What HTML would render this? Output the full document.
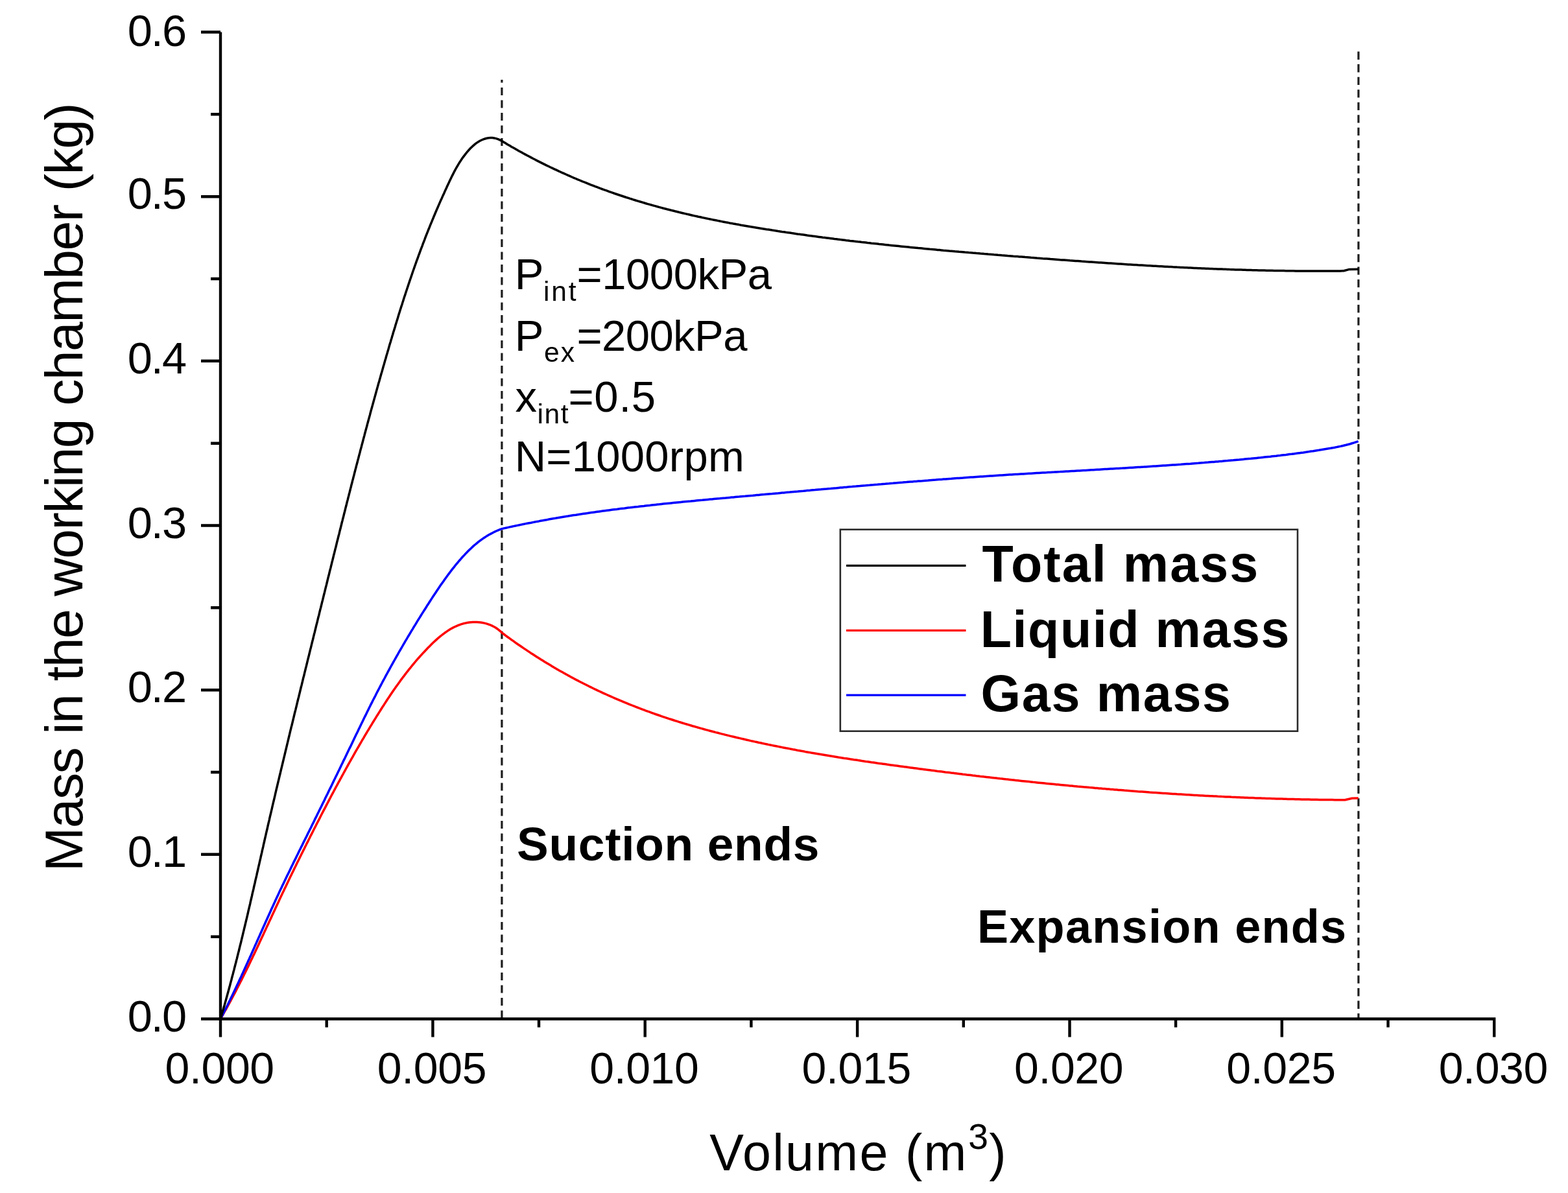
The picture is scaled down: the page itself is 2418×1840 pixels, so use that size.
<!DOCTYPE html>
<html><head><meta charset="utf-8"><title>Mass in the working chamber vs Volume</title>
<style>html,body{margin:0;padding:0;background:#fff;}body{width:2418px;height:1840px;overflow:hidden;}svg{display:block;}text{font-family:'Liberation Sans', Arial, Helvetica, sans-serif;fill:#000;}.b{font-weight:bold;}</style></head><body>
<svg width="2418" height="1840" viewBox="0 0 2418 1840">
<rect x="0" y="0" width="2418" height="1840" fill="#fff"/>
<g stroke="#1e1e1e" stroke-width="3.2" fill="none">
<path d="M773.9 123 V1571.5" stroke-dasharray="12 7.5" stroke-dashoffset="7.4"/>
<path d="M2094.9 79.6 V1571.5" stroke-dasharray="12.3 7.22"/>
</g>
<g fill="none" stroke-width="3.5" stroke-linejoin="round" stroke-linecap="butt">
<path stroke="#ff0000" d="M340.0 1571.5 L341.5 1568.9 L343.0 1566.3 L344.5 1563.7 L346.0 1561.0 L347.5 1558.4 L349.0 1555.8 L350.4 1553.1 L351.9 1550.5 L353.3 1547.8 L354.8 1545.2 L356.2 1542.5 L357.6 1539.9 L359.0 1537.2 L360.5 1534.5 L361.9 1531.9 L363.3 1529.2 L364.7 1526.5 L366.0 1523.8 L367.4 1521.2 L368.8 1518.5 L370.2 1515.8 L371.5 1513.1 L372.9 1510.4 L374.2 1507.7 L375.6 1505.0 L376.9 1502.3 L378.3 1499.6 L379.6 1496.9 L380.9 1494.2 L382.3 1491.5 L383.6 1488.7 L384.9 1486.0 L386.2 1483.3 L387.5 1480.6 L388.8 1477.9 L390.1 1475.1 L391.4 1472.4 L392.7 1469.7 L394.0 1466.9 L395.3 1464.2 L396.6 1461.5 L397.9 1458.7 L399.2 1456.0 L400.4 1453.3 L401.7 1450.5 L403.0 1447.8 L404.3 1445.1 L405.6 1442.3 L406.8 1439.6 L408.1 1436.8 L409.4 1434.1 L410.6 1431.4 L411.9 1428.6 L413.2 1425.9 L414.5 1423.1 L415.7 1420.4 L417.0 1417.7 L418.3 1414.9 L419.5 1412.2 L420.8 1409.4 L422.1 1406.7 L423.4 1403.9 L424.6 1401.2 L425.9 1398.5 L427.2 1395.7 L428.5 1393.0 L429.8 1390.3 L431.0 1387.5 L432.3 1384.8 L433.6 1382.0 L434.9 1379.3 L436.2 1376.6 L437.5 1373.9 L438.8 1371.1 L440.1 1368.4 L441.4 1365.7 L442.7 1362.9 L444.0 1360.2 L445.3 1357.5 L446.6 1354.8 L447.9 1352.1 L449.3 1349.3 L450.6 1346.6 L451.9 1343.9 L453.2 1341.2 L454.5 1338.5 L455.9 1335.8 L457.2 1333.0 L458.5 1330.3 L459.9 1327.6 L461.2 1324.9 L462.5 1322.2 L463.9 1319.5 L465.2 1316.8 L466.6 1314.1 L467.9 1311.4 L469.3 1308.7 L470.6 1306.0 L472.0 1303.3 L473.3 1300.6 L474.7 1297.9 L476.0 1295.2 L477.4 1292.5 L478.7 1289.8 L480.1 1287.1 L481.5 1284.4 L482.8 1281.7 L484.2 1279.0 L485.6 1276.3 L487.0 1273.6 L488.3 1270.9 L489.7 1268.2 L491.1 1265.6 L492.5 1262.9 L493.8 1260.2 L495.2 1257.5 L496.6 1254.8 L498.0 1252.1 L499.4 1249.4 L500.8 1246.8 L502.2 1244.1 L503.6 1241.4 L505.0 1238.7 L506.4 1236.1 L507.8 1233.4 L509.2 1230.7 L510.6 1228.0 L512.0 1225.4 L513.5 1222.7 L514.9 1220.0 L516.3 1217.4 L517.7 1214.7 L519.2 1212.0 L520.6 1209.4 L522.0 1206.7 L523.5 1204.1 L524.9 1201.4 L526.4 1198.8 L527.8 1196.1 L529.3 1193.5 L530.7 1190.8 L532.2 1188.2 L533.6 1185.5 L535.1 1182.9 L536.6 1180.2 L538.0 1177.6 L539.5 1175.0 L541.0 1172.3 L542.5 1169.7 L544.0 1167.1 L545.4 1164.5 L546.9 1161.8 L548.4 1159.2 L549.9 1156.6 L551.4 1154.0 L553.0 1151.4 L554.5 1148.7 L556.0 1146.1 L557.5 1143.5 L559.0 1140.9 L560.6 1138.3 L562.1 1135.7 L563.6 1133.1 L565.2 1130.5 L566.7 1127.9 L568.3 1125.4 L569.8 1122.8 L571.4 1120.2 L573.0 1117.6 L574.5 1115.0 L576.1 1112.5 L577.7 1109.9 L579.3 1107.3 L580.9 1104.7 L582.5 1102.2 L584.1 1099.6 L585.7 1097.1 L587.3 1094.5 L588.9 1092.0 L590.5 1089.4 L592.2 1086.9 L593.8 1084.4 L595.5 1081.8 L597.1 1079.3 L598.8 1076.8 L600.5 1074.3 L602.1 1071.8 L603.8 1069.3 L605.5 1066.8 L607.2 1064.3 L609.0 1061.8 L610.7 1059.3 L612.4 1056.9 L614.2 1054.4 L616.0 1052.0 L617.7 1049.5 L619.5 1047.1 L621.3 1044.7 L623.2 1042.3 L625.0 1039.9 L626.8 1037.5 L628.7 1035.1 L630.6 1032.7 L632.5 1030.4 L634.4 1028.0 L636.3 1025.7 L638.2 1023.4 L640.2 1021.0 L642.1 1018.7 L644.1 1016.4 L646.1 1014.2 L648.1 1011.9 L650.2 1009.6 L652.2 1007.4 L654.3 1005.2 L656.4 1003.0 L658.5 1000.7 L660.6 998.6 L662.8 996.4 L664.9 994.2 L667.1 992.1 L669.3 990.0 L671.6 987.9 L673.8 985.9 L676.1 983.8 L678.4 981.9 L680.8 980.0 L683.2 978.1 L685.6 976.3 L688.0 974.6 L690.5 972.9 L693.0 971.3 L695.5 969.8 L698.1 968.4 L700.7 967.0 L703.4 965.8 L706.1 964.7 L708.8 963.6 L711.6 962.7 L714.4 961.8 L717.3 961.1 L720.2 960.5 L723.2 960.1 L726.2 959.7 L729.2 959.5 L732.2 959.5 L735.3 959.5 L738.3 959.7 L741.3 960.0 L744.3 960.5 L747.3 961.1 L750.2 961.9 L753.1 962.8 L756.0 963.9 L758.8 965.1 L761.5 966.5 L764.2 968.0 L766.7 969.7 L769.2 971.6 L771.6 973.6 L773.9 975.8 L776.9 978.0 L779.9 980.3 L782.9 982.5 L785.9 984.6 L788.9 986.8 L791.9 988.9 L794.9 991.1 L797.9 993.2 L800.9 995.2 L803.9 997.3 L806.9 999.4 L809.9 1001.4 L812.9 1003.4 L815.9 1005.4 L818.9 1007.4 L821.9 1009.3 L824.9 1011.3 L827.9 1013.2 L830.9 1015.1 L833.9 1017.0 L836.9 1018.8 L839.9 1020.7 L842.9 1022.5 L845.9 1024.3 L848.9 1026.1 L851.9 1027.9 L854.9 1029.7 L857.9 1031.4 L860.9 1033.2 L863.9 1034.9 L866.9 1036.6 L869.9 1038.3 L872.9 1039.9 L875.9 1041.6 L878.9 1043.2 L881.9 1044.9 L884.9 1046.5 L887.9 1048.1 L890.9 1049.6 L893.9 1051.2 L896.9 1052.7 L899.9 1054.3 L902.9 1055.8 L905.9 1057.3 L908.9 1058.8 L911.9 1060.2 L914.9 1061.7 L917.9 1063.2 L920.9 1064.6 L923.9 1066.0 L926.9 1067.4 L929.9 1068.8 L932.9 1070.2 L935.9 1071.5 L938.9 1072.9 L941.9 1074.2 L944.9 1075.5 L947.9 1076.8 L950.9 1078.1 L953.9 1079.4 L956.9 1080.7 L959.9 1081.9 L962.9 1083.2 L965.9 1084.4 L968.9 1085.6 L971.9 1086.8 L974.9 1088.0 L977.9 1089.2 L980.9 1090.4 L983.9 1091.5 L986.9 1092.7 L989.9 1093.8 L992.9 1094.9 L995.9 1096.1 L998.9 1097.2 L1001.9 1098.2 L1004.9 1099.3 L1007.9 1100.4 L1010.9 1101.5 L1013.9 1102.5 L1016.9 1103.5 L1019.9 1104.6 L1022.9 1105.6 L1025.9 1106.6 L1028.9 1107.6 L1031.9 1108.6 L1034.9 1109.5 L1037.9 1110.5 L1040.9 1111.5 L1043.9 1112.4 L1046.9 1113.4 L1049.9 1114.3 L1052.9 1115.2 L1055.9 1116.1 L1058.9 1117.0 L1061.9 1117.9 L1064.9 1118.8 L1067.9 1119.7 L1070.9 1120.5 L1073.9 1121.4 L1076.9 1122.3 L1079.9 1123.1 L1082.9 1123.9 L1085.9 1124.8 L1088.9 1125.6 L1091.9 1126.4 L1094.9 1127.2 L1097.9 1128.0 L1100.9 1128.8 L1103.9 1129.6 L1106.9 1130.3 L1109.9 1131.1 L1112.9 1131.9 L1115.9 1132.6 L1118.9 1133.4 L1121.9 1134.1 L1124.9 1134.9 L1127.9 1135.6 L1130.9 1136.3 L1133.9 1137.0 L1136.9 1137.7 L1139.9 1138.4 L1142.9 1139.1 L1145.9 1139.8 L1148.9 1140.5 L1151.9 1141.2 L1154.9 1141.9 L1157.9 1142.6 L1160.9 1143.2 L1163.9 1143.9 L1166.9 1144.5 L1169.9 1145.2 L1172.9 1145.8 L1175.9 1146.5 L1178.9 1147.1 L1181.9 1147.7 L1184.9 1148.4 L1187.9 1149.0 L1190.9 1149.6 L1193.9 1150.2 L1196.9 1150.8 L1199.9 1151.4 L1202.9 1152.0 L1205.9 1152.6 L1208.9 1153.2 L1211.9 1153.8 L1214.9 1154.3 L1217.9 1154.9 L1220.9 1155.5 L1223.9 1156.1 L1226.9 1156.6 L1229.9 1157.2 L1232.9 1157.7 L1235.9 1158.3 L1238.9 1158.8 L1241.9 1159.4 L1244.9 1159.9 L1247.9 1160.4 L1250.9 1161.0 L1253.9 1161.5 L1256.9 1162.0 L1259.9 1162.5 L1262.9 1163.0 L1265.9 1163.5 L1268.9 1164.0 L1271.9 1164.5 L1274.9 1165.0 L1277.9 1165.5 L1280.9 1166.0 L1283.9 1166.5 L1286.9 1167.0 L1289.9 1167.5 L1292.9 1168.0 L1295.9 1168.4 L1298.9 1168.9 L1301.9 1169.4 L1304.9 1169.8 L1307.9 1170.3 L1310.9 1170.8 L1313.9 1171.2 L1316.9 1171.7 L1319.9 1172.1 L1322.9 1172.6 L1325.9 1173.0 L1328.9 1173.5 L1331.9 1173.9 L1334.9 1174.4 L1337.9 1174.8 L1340.9 1175.2 L1343.9 1175.7 L1346.9 1176.1 L1349.9 1176.5 L1352.9 1177.0 L1355.9 1177.4 L1358.9 1177.8 L1361.9 1178.2 L1364.9 1178.6 L1367.9 1179.1 L1370.9 1179.5 L1373.9 1179.9 L1376.9 1180.3 L1379.9 1180.7 L1382.9 1181.1 L1385.9 1181.5 L1388.9 1181.9 L1391.9 1182.3 L1394.9 1182.7 L1397.9 1183.1 L1400.9 1183.5 L1403.9 1183.9 L1406.9 1184.3 L1409.9 1184.7 L1412.9 1185.1 L1415.9 1185.5 L1418.9 1185.9 L1421.9 1186.3 L1424.9 1186.7 L1427.9 1187.1 L1430.9 1187.4 L1433.9 1187.8 L1436.9 1188.2 L1439.9 1188.6 L1442.9 1189.0 L1445.9 1189.4 L1448.9 1189.7 L1451.9 1190.1 L1454.9 1190.5 L1457.9 1190.9 L1460.9 1191.2 L1463.9 1191.6 L1466.9 1192.0 L1469.9 1192.3 L1472.9 1192.7 L1475.9 1193.1 L1478.9 1193.4 L1481.9 1193.8 L1484.9 1194.2 L1487.9 1194.5 L1490.9 1194.9 L1493.9 1195.2 L1496.9 1195.6 L1499.9 1196.0 L1502.9 1196.3 L1505.9 1196.7 L1508.9 1197.0 L1511.9 1197.4 L1514.9 1197.7 L1517.9 1198.1 L1520.9 1198.4 L1523.9 1198.7 L1526.9 1199.1 L1529.9 1199.4 L1532.9 1199.8 L1535.9 1200.1 L1538.9 1200.4 L1541.9 1200.8 L1544.9 1201.1 L1547.9 1201.4 L1550.9 1201.8 L1553.9 1202.1 L1556.9 1202.4 L1559.9 1202.8 L1562.9 1203.1 L1565.9 1203.4 L1568.9 1203.7 L1571.9 1204.1 L1574.9 1204.4 L1577.9 1204.7 L1580.9 1205.0 L1583.9 1205.3 L1586.9 1205.6 L1589.9 1205.9 L1592.9 1206.3 L1595.9 1206.6 L1598.9 1206.9 L1601.9 1207.2 L1604.9 1207.5 L1607.9 1207.8 L1610.9 1208.1 L1613.9 1208.4 L1616.9 1208.7 L1619.9 1209.0 L1622.9 1209.3 L1625.9 1209.6 L1628.9 1209.9 L1631.9 1210.1 L1634.9 1210.4 L1637.9 1210.7 L1640.9 1211.0 L1643.9 1211.3 L1646.9 1211.6 L1649.9 1211.9 L1652.9 1212.1 L1655.9 1212.4 L1658.9 1212.7 L1661.9 1213.0 L1664.9 1213.2 L1667.9 1213.5 L1670.9 1213.8 L1673.9 1214.0 L1676.9 1214.3 L1679.9 1214.6 L1682.9 1214.8 L1685.9 1215.1 L1688.9 1215.4 L1691.9 1215.6 L1694.9 1215.9 L1697.9 1216.1 L1700.9 1216.4 L1703.9 1216.6 L1706.9 1216.9 L1709.9 1217.1 L1712.9 1217.4 L1715.9 1217.6 L1718.9 1217.9 L1721.9 1218.1 L1724.9 1218.4 L1727.9 1218.6 L1730.9 1218.8 L1733.9 1219.1 L1736.9 1219.3 L1739.9 1219.5 L1742.9 1219.8 L1745.9 1220.0 L1748.9 1220.2 L1751.9 1220.4 L1754.9 1220.7 L1757.9 1220.9 L1760.9 1221.1 L1763.9 1221.3 L1766.9 1221.5 L1769.9 1221.7 L1772.9 1222.0 L1775.9 1222.2 L1778.9 1222.4 L1781.9 1222.6 L1784.9 1222.8 L1787.9 1223.0 L1790.9 1223.2 L1793.9 1223.4 L1796.9 1223.6 L1799.9 1223.8 L1802.9 1224.0 L1805.9 1224.2 L1808.9 1224.4 L1811.9 1224.6 L1814.9 1224.8 L1817.9 1224.9 L1820.9 1225.1 L1823.9 1225.3 L1826.9 1225.5 L1829.9 1225.7 L1832.9 1225.8 L1835.9 1226.0 L1838.9 1226.2 L1841.9 1226.4 L1844.9 1226.5 L1847.9 1226.7 L1850.9 1226.9 L1853.9 1227.0 L1856.9 1227.2 L1859.9 1227.4 L1862.9 1227.5 L1865.9 1227.7 L1868.9 1227.8 L1871.9 1228.0 L1874.9 1228.1 L1877.9 1228.3 L1880.9 1228.4 L1883.9 1228.6 L1886.9 1228.7 L1889.9 1228.9 L1892.9 1229.0 L1895.9 1229.1 L1898.9 1229.3 L1901.9 1229.4 L1904.9 1229.5 L1907.9 1229.7 L1910.9 1229.8 L1913.9 1229.9 L1916.9 1230.0 L1919.9 1230.2 L1922.9 1230.3 L1925.9 1230.4 L1928.9 1230.5 L1931.9 1230.6 L1934.9 1230.8 L1937.9 1230.9 L1940.9 1231.0 L1943.9 1231.1 L1946.9 1231.2 L1949.9 1231.3 L1952.9 1231.4 L1955.9 1231.5 L1958.9 1231.6 L1961.9 1231.7 L1964.9 1231.8 L1967.9 1231.9 L1970.9 1232.0 L1973.9 1232.0 L1976.9 1232.1 L1979.9 1232.2 L1982.9 1232.3 L1985.9 1232.4 L1988.9 1232.5 L1991.9 1232.5 L1994.9 1232.6 L1997.9 1232.7 L2000.9 1232.7 L2003.9 1232.8 L2006.9 1232.9 L2009.9 1232.9 L2012.9 1233.0 L2015.9 1233.1 L2018.9 1233.1 L2021.9 1233.2 L2024.9 1233.2 L2027.9 1233.3 L2030.9 1233.3 L2033.9 1233.4 L2036.9 1233.4 L2039.9 1233.5 L2042.9 1233.5 L2045.9 1233.5 L2048.9 1233.6 L2051.9 1233.6 L2054.9 1233.6 L2057.9 1233.7 L2060.9 1233.7 L2063.9 1233.7 L2066.9 1233.8 L2069.9 1233.8 L2072.9 1233.8 L2074.0 1233.8 L2085.0 1231.2 L2094.7 1231.1"/>
<path stroke="#0000ff" d="M340.0 1571.5 L341.4 1568.8 L342.8 1566.1 L344.2 1563.4 L345.5 1560.8 L346.9 1558.1 L348.3 1555.4 L349.6 1552.7 L351.0 1550.0 L352.3 1547.2 L353.6 1544.5 L355.0 1541.8 L356.3 1539.1 L357.6 1536.4 L358.9 1533.7 L360.2 1530.9 L361.5 1528.2 L362.8 1525.5 L364.1 1522.8 L365.4 1520.0 L366.7 1517.3 L368.0 1514.6 L369.2 1511.8 L370.5 1509.1 L371.8 1506.4 L373.0 1503.6 L374.3 1500.9 L375.6 1498.1 L376.8 1495.4 L378.1 1492.6 L379.3 1489.9 L380.6 1487.1 L381.8 1484.4 L383.0 1481.6 L384.3 1478.9 L385.5 1476.1 L386.8 1473.4 L388.0 1470.6 L389.2 1467.9 L390.5 1465.1 L391.7 1462.4 L392.9 1459.6 L394.2 1456.8 L395.4 1454.1 L396.6 1451.3 L397.8 1448.6 L399.1 1445.8 L400.3 1443.1 L401.5 1440.3 L402.8 1437.5 L404.0 1434.8 L405.2 1432.0 L406.4 1429.3 L407.7 1426.5 L408.9 1423.8 L410.1 1421.0 L411.4 1418.2 L412.6 1415.5 L413.9 1412.7 L415.1 1410.0 L416.4 1407.2 L417.6 1404.5 L418.8 1401.7 L420.1 1399.0 L421.4 1396.2 L422.6 1393.5 L423.9 1390.8 L425.1 1388.0 L426.4 1385.3 L427.7 1382.5 L429.0 1379.8 L430.2 1377.1 L431.5 1374.3 L432.8 1371.6 L434.1 1368.9 L435.4 1366.1 L436.7 1363.4 L438.0 1360.7 L439.3 1358.0 L440.6 1355.3 L441.9 1352.5 L443.2 1349.8 L444.6 1347.1 L445.9 1344.4 L447.2 1341.7 L448.5 1338.9 L449.8 1336.2 L451.2 1333.5 L452.5 1330.8 L453.8 1328.1 L455.2 1325.4 L456.5 1322.7 L457.8 1320.0 L459.2 1317.3 L460.5 1314.6 L461.8 1311.8 L463.2 1309.1 L464.5 1306.4 L465.9 1303.7 L467.2 1301.0 L468.5 1298.3 L469.9 1295.6 L471.2 1292.9 L472.6 1290.2 L473.9 1287.5 L475.2 1284.8 L476.6 1282.1 L477.9 1279.4 L479.3 1276.7 L480.6 1274.0 L481.9 1271.3 L483.3 1268.6 L484.6 1265.9 L485.9 1263.1 L487.3 1260.4 L488.6 1257.7 L489.9 1255.0 L491.3 1252.3 L492.6 1249.6 L493.9 1246.9 L495.3 1244.2 L496.6 1241.5 L497.9 1238.8 L499.3 1236.1 L500.6 1233.4 L501.9 1230.6 L503.2 1227.9 L504.6 1225.2 L505.9 1222.5 L507.2 1219.8 L508.5 1217.1 L509.9 1214.4 L511.2 1211.7 L512.5 1209.0 L513.8 1206.2 L515.1 1203.5 L516.5 1200.8 L517.8 1198.1 L519.1 1195.4 L520.4 1192.7 L521.7 1190.0 L523.1 1187.2 L524.4 1184.5 L525.7 1181.8 L527.0 1179.1 L528.3 1176.4 L529.6 1173.6 L531.0 1170.9 L532.3 1168.2 L533.6 1165.5 L534.9 1162.8 L536.2 1160.0 L537.5 1157.3 L538.8 1154.6 L540.2 1151.9 L541.5 1149.2 L542.8 1146.4 L544.1 1143.7 L545.4 1141.0 L546.7 1138.3 L548.0 1135.5 L549.3 1132.8 L550.7 1130.1 L552.0 1127.4 L553.3 1124.6 L554.6 1121.9 L555.9 1119.2 L557.2 1116.5 L558.6 1113.7 L559.9 1111.0 L561.2 1108.3 L562.5 1105.6 L563.9 1102.9 L565.2 1100.2 L566.5 1097.5 L567.9 1094.7 L569.2 1092.0 L570.6 1089.3 L571.9 1086.6 L573.3 1083.9 L574.6 1081.2 L576.0 1078.5 L577.4 1075.9 L578.8 1073.2 L580.1 1070.5 L581.5 1067.8 L582.9 1065.1 L584.3 1062.5 L585.7 1059.8 L587.1 1057.1 L588.5 1054.5 L589.9 1051.8 L591.3 1049.1 L592.8 1046.5 L594.2 1043.8 L595.6 1041.2 L597.1 1038.5 L598.5 1035.9 L599.9 1033.3 L601.4 1030.6 L602.8 1028.0 L604.3 1025.3 L605.8 1022.7 L607.2 1020.1 L608.7 1017.5 L610.2 1014.8 L611.7 1012.2 L613.2 1009.6 L614.6 1007.0 L616.1 1004.4 L617.6 1001.8 L619.2 999.1 L620.7 996.5 L622.2 993.9 L623.7 991.3 L625.2 988.7 L626.8 986.1 L628.3 983.5 L629.8 981.0 L631.4 978.4 L632.9 975.8 L634.5 973.2 L636.1 970.6 L637.6 968.0 L639.2 965.4 L640.8 962.9 L642.3 960.3 L643.9 957.7 L645.5 955.1 L647.1 952.6 L648.7 950.0 L650.3 947.4 L651.9 944.9 L653.5 942.3 L655.2 939.7 L656.8 937.2 L658.4 934.6 L660.1 932.1 L661.7 929.5 L663.3 927.0 L665.0 924.4 L666.6 921.9 L668.3 919.3 L670.0 916.8 L671.7 914.2 L673.3 911.7 L675.0 909.2 L676.7 906.7 L678.5 904.1 L680.2 901.6 L681.9 899.2 L683.7 896.7 L685.4 894.2 L687.2 891.7 L689.0 889.3 L690.8 886.8 L692.6 884.4 L694.4 882.0 L696.2 879.6 L698.1 877.2 L700.0 874.9 L701.8 872.5 L703.7 870.2 L705.7 867.8 L707.6 865.5 L709.6 863.3 L711.5 861.0 L713.5 858.8 L715.6 856.6 L717.6 854.4 L719.7 852.2 L721.8 850.1 L723.9 848.0 L726.1 845.9 L728.2 843.9 L730.4 841.9 L732.7 840.0 L735.0 838.1 L737.3 836.2 L739.6 834.4 L742.0 832.6 L744.4 830.9 L746.9 829.2 L749.4 827.6 L751.9 826.0 L754.5 824.5 L757.2 823.1 L759.8 821.7 L762.5 820.3 L765.3 819.0 L768.1 817.8 L771.0 816.7 L773.9 815.6 L776.9 814.9 L779.9 814.3 L782.9 813.6 L785.9 812.9 L788.9 812.3 L791.9 811.6 L794.9 811.0 L797.9 810.4 L800.9 809.8 L803.9 809.1 L806.9 808.5 L809.9 807.9 L812.9 807.3 L815.9 806.7 L818.9 806.2 L821.9 805.6 L824.9 805.0 L827.9 804.4 L830.9 803.9 L833.9 803.3 L836.9 802.8 L839.9 802.2 L842.9 801.7 L845.9 801.1 L848.9 800.6 L851.9 800.1 L854.9 799.6 L857.9 799.0 L860.9 798.5 L863.9 798.0 L866.9 797.5 L869.9 797.0 L872.9 796.5 L875.9 796.1 L878.9 795.6 L881.9 795.1 L884.9 794.6 L887.9 794.2 L890.9 793.7 L893.9 793.2 L896.9 792.8 L899.9 792.3 L902.9 791.9 L905.9 791.5 L908.9 791.0 L911.9 790.6 L914.9 790.2 L917.9 789.8 L920.9 789.3 L923.9 788.9 L926.9 788.5 L929.9 788.1 L932.9 787.7 L935.9 787.3 L938.9 786.9 L941.9 786.5 L944.9 786.1 L947.9 785.7 L950.9 785.4 L953.9 785.0 L956.9 784.6 L959.9 784.2 L962.9 783.9 L965.9 783.5 L968.9 783.1 L971.9 782.8 L974.9 782.4 L977.9 782.1 L980.9 781.7 L983.9 781.4 L986.9 781.0 L989.9 780.7 L992.9 780.4 L995.9 780.0 L998.9 779.7 L1001.9 779.4 L1004.9 779.0 L1007.9 778.7 L1010.9 778.4 L1013.9 778.1 L1016.9 777.8 L1019.9 777.4 L1022.9 777.1 L1025.9 776.8 L1028.9 776.5 L1031.9 776.2 L1034.9 775.9 L1037.9 775.6 L1040.9 775.3 L1043.9 775.0 L1046.9 774.7 L1049.9 774.4 L1052.9 774.1 L1055.9 773.8 L1058.9 773.5 L1061.9 773.2 L1064.9 773.0 L1067.9 772.7 L1070.9 772.4 L1073.9 772.1 L1076.9 771.8 L1079.9 771.5 L1082.9 771.3 L1085.9 771.0 L1088.9 770.7 L1091.9 770.4 L1094.9 770.1 L1097.9 769.9 L1100.9 769.6 L1103.9 769.3 L1106.9 769.0 L1109.9 768.8 L1112.9 768.5 L1115.9 768.2 L1118.9 768.0 L1121.9 767.7 L1124.9 767.4 L1127.9 767.1 L1130.9 766.9 L1133.9 766.6 L1136.9 766.3 L1139.9 766.1 L1142.9 765.8 L1145.9 765.5 L1148.9 765.3 L1151.9 765.0 L1154.9 764.7 L1157.9 764.4 L1160.9 764.2 L1163.9 763.9 L1166.9 763.6 L1169.9 763.4 L1172.9 763.1 L1175.9 762.8 L1178.9 762.6 L1181.9 762.3 L1184.9 762.0 L1187.9 761.7 L1190.9 761.5 L1193.9 761.2 L1196.9 760.9 L1199.9 760.7 L1202.9 760.4 L1205.9 760.1 L1208.9 759.9 L1211.9 759.6 L1214.9 759.3 L1217.9 759.1 L1220.9 758.8 L1223.9 758.5 L1226.9 758.2 L1229.9 758.0 L1232.9 757.7 L1235.9 757.4 L1238.9 757.2 L1241.9 756.9 L1244.9 756.6 L1247.9 756.4 L1250.9 756.1 L1253.9 755.8 L1256.9 755.6 L1259.9 755.3 L1262.9 755.0 L1265.9 754.8 L1268.9 754.5 L1271.9 754.2 L1274.9 754.0 L1277.9 753.7 L1280.9 753.5 L1283.9 753.2 L1286.9 752.9 L1289.9 752.7 L1292.9 752.4 L1295.9 752.1 L1298.9 751.9 L1301.9 751.6 L1304.9 751.4 L1307.9 751.1 L1310.9 750.8 L1313.9 750.6 L1316.9 750.3 L1319.9 750.1 L1322.9 749.8 L1325.9 749.6 L1328.9 749.3 L1331.9 749.0 L1334.9 748.8 L1337.9 748.5 L1340.9 748.3 L1343.9 748.0 L1346.9 747.8 L1349.9 747.5 L1352.9 747.3 L1355.9 747.0 L1358.9 746.8 L1361.9 746.5 L1364.9 746.3 L1367.9 746.0 L1370.9 745.8 L1373.9 745.5 L1376.9 745.3 L1379.9 745.0 L1382.9 744.8 L1385.9 744.5 L1388.9 744.3 L1391.9 744.1 L1394.9 743.8 L1397.9 743.6 L1400.9 743.3 L1403.9 743.1 L1406.9 742.9 L1409.9 742.6 L1412.9 742.4 L1415.9 742.1 L1418.9 741.9 L1421.9 741.7 L1424.9 741.4 L1427.9 741.2 L1430.9 741.0 L1433.9 740.7 L1436.9 740.5 L1439.9 740.3 L1442.9 740.1 L1445.9 739.8 L1448.9 739.6 L1451.9 739.4 L1454.9 739.1 L1457.9 738.9 L1460.9 738.7 L1463.9 738.5 L1466.9 738.3 L1469.9 738.0 L1472.9 737.8 L1475.9 737.6 L1478.9 737.4 L1481.9 737.2 L1484.9 737.0 L1487.9 736.7 L1490.9 736.5 L1493.9 736.3 L1496.9 736.1 L1499.9 735.9 L1502.9 735.7 L1505.9 735.5 L1508.9 735.3 L1511.9 735.1 L1514.9 734.9 L1517.9 734.7 L1520.9 734.5 L1523.9 734.3 L1526.9 734.1 L1529.9 733.9 L1532.9 733.7 L1535.9 733.5 L1538.9 733.3 L1541.9 733.1 L1544.9 732.9 L1547.9 732.7 L1550.9 732.5 L1553.9 732.3 L1556.9 732.1 L1559.9 732.0 L1562.9 731.8 L1565.9 731.6 L1568.9 731.4 L1571.9 731.2 L1574.9 731.0 L1577.9 730.9 L1580.9 730.7 L1583.9 730.5 L1586.9 730.3 L1589.9 730.2 L1592.9 730.0 L1595.9 729.8 L1598.9 729.6 L1601.9 729.5 L1604.9 729.3 L1607.9 729.1 L1610.9 728.9 L1613.9 728.8 L1616.9 728.6 L1619.9 728.4 L1622.9 728.2 L1625.9 728.1 L1628.9 727.9 L1631.9 727.7 L1634.9 727.6 L1637.9 727.4 L1640.9 727.2 L1643.9 727.0 L1646.9 726.9 L1649.9 726.7 L1652.9 726.5 L1655.9 726.4 L1658.9 726.2 L1661.9 726.0 L1664.9 725.9 L1667.9 725.7 L1670.9 725.5 L1673.9 725.4 L1676.9 725.2 L1679.9 725.0 L1682.9 724.8 L1685.9 724.7 L1688.9 724.5 L1691.9 724.3 L1694.9 724.2 L1697.9 724.0 L1700.9 723.8 L1703.9 723.6 L1706.9 723.5 L1709.9 723.3 L1712.9 723.1 L1715.9 723.0 L1718.9 722.8 L1721.9 722.6 L1724.9 722.4 L1727.9 722.2 L1730.9 722.1 L1733.9 721.9 L1736.9 721.7 L1739.9 721.5 L1742.9 721.3 L1745.9 721.2 L1748.9 721.0 L1751.9 720.8 L1754.9 720.6 L1757.9 720.4 L1760.9 720.2 L1763.9 720.1 L1766.9 719.9 L1769.9 719.7 L1772.9 719.5 L1775.9 719.3 L1778.9 719.1 L1781.9 718.9 L1784.9 718.7 L1787.9 718.5 L1790.9 718.3 L1793.9 718.1 L1796.9 717.9 L1799.9 717.7 L1802.9 717.5 L1805.9 717.3 L1808.9 717.1 L1811.9 716.9 L1814.9 716.7 L1817.9 716.5 L1820.9 716.3 L1823.9 716.0 L1826.9 715.8 L1829.9 715.6 L1832.9 715.4 L1835.9 715.2 L1838.9 714.9 L1841.9 714.7 L1844.9 714.5 L1847.9 714.3 L1850.9 714.0 L1853.9 713.8 L1856.9 713.6 L1859.9 713.3 L1862.9 713.1 L1865.9 712.8 L1868.9 712.6 L1871.9 712.4 L1874.9 712.1 L1877.9 711.9 L1880.9 711.6 L1883.9 711.4 L1886.9 711.1 L1889.9 710.8 L1892.9 710.6 L1895.9 710.3 L1898.9 710.0 L1901.9 709.8 L1904.9 709.5 L1907.9 709.2 L1910.9 709.0 L1913.9 708.7 L1916.9 708.4 L1919.9 708.1 L1922.9 707.8 L1925.9 707.5 L1928.9 707.3 L1931.9 707.0 L1934.9 706.7 L1937.9 706.4 L1940.9 706.1 L1943.9 705.8 L1946.9 705.4 L1949.9 705.1 L1952.9 704.8 L1955.9 704.5 L1958.9 704.2 L1961.9 703.8 L1964.9 703.5 L1967.9 703.2 L1970.9 702.8 L1973.9 702.5 L1976.9 702.1 L1979.9 701.7 L1982.9 701.4 L1985.9 701.0 L1988.9 700.6 L1991.9 700.3 L1994.9 699.9 L1997.9 699.5 L2000.9 699.1 L2003.9 698.7 L2006.9 698.3 L2009.9 697.9 L2012.9 697.4 L2015.9 697.0 L2018.9 696.6 L2021.9 696.1 L2024.9 695.7 L2027.9 695.2 L2030.9 694.7 L2033.9 694.3 L2036.9 693.8 L2039.9 693.3 L2042.9 692.8 L2045.9 692.3 L2048.9 691.8 L2051.9 691.3 L2054.9 690.7 L2057.9 690.2 L2060.9 689.6 L2063.9 689.0 L2066.9 688.4 L2069.9 687.7 L2072.9 687.0 L2075.9 686.3 L2078.9 685.5 L2081.9 684.7 L2084.9 683.8 L2087.9 682.9 L2090.9 681.9 L2093.9 680.9 L2094.7 680.6"/>
<path stroke="#000000" d="M340.0 1571.5 L340.8 1568.6 L341.7 1565.7 L342.5 1562.8 L343.4 1559.9 L344.2 1557.1 L345.0 1554.2 L345.9 1551.3 L346.7 1548.4 L347.5 1545.5 L348.3 1542.6 L349.1 1539.7 L349.9 1536.8 L350.7 1533.9 L351.5 1531.0 L352.3 1528.1 L353.1 1525.2 L353.9 1522.3 L354.7 1519.4 L355.4 1516.5 L356.2 1513.6 L357.0 1510.7 L357.7 1507.7 L358.5 1504.8 L359.3 1501.9 L360.0 1499.0 L360.8 1496.1 L361.5 1493.2 L362.3 1490.3 L363.0 1487.4 L363.8 1484.5 L364.5 1481.5 L365.3 1478.6 L366.0 1475.7 L366.7 1472.8 L367.4 1469.9 L368.2 1467.0 L368.9 1464.0 L369.6 1461.1 L370.3 1458.2 L371.1 1455.3 L371.8 1452.4 L372.5 1449.4 L373.2 1446.5 L373.9 1443.6 L374.6 1440.7 L375.3 1437.7 L376.0 1434.8 L376.7 1431.9 L377.4 1429.0 L378.1 1426.0 L378.8 1423.1 L379.5 1420.2 L380.2 1417.3 L380.9 1414.3 L381.6 1411.4 L382.3 1408.5 L382.9 1405.5 L383.6 1402.6 L384.3 1399.7 L385.0 1396.8 L385.7 1393.8 L386.3 1390.9 L387.0 1388.0 L387.7 1385.0 L388.4 1382.1 L389.0 1379.2 L389.7 1376.2 L390.4 1373.3 L391.1 1370.4 L391.7 1367.4 L392.4 1364.5 L393.1 1361.6 L393.7 1358.6 L394.4 1355.7 L395.1 1352.8 L395.8 1349.8 L396.4 1346.9 L397.1 1344.0 L397.8 1341.0 L398.4 1338.1 L399.1 1335.2 L399.8 1332.2 L400.4 1329.3 L401.1 1326.4 L401.8 1323.4 L402.4 1320.5 L403.1 1317.6 L403.8 1314.6 L404.4 1311.7 L405.1 1308.8 L405.8 1305.8 L406.4 1302.9 L407.1 1300.0 L407.8 1297.0 L408.4 1294.1 L409.1 1291.2 L409.8 1288.2 L410.4 1285.3 L411.1 1282.4 L411.8 1279.5 L412.5 1276.5 L413.1 1273.6 L413.8 1270.7 L414.5 1267.7 L415.2 1264.8 L415.8 1261.9 L416.5 1258.9 L417.2 1256.0 L417.9 1253.1 L418.6 1250.1 L419.3 1247.2 L419.9 1244.3 L420.6 1241.4 L421.3 1238.4 L422.0 1235.5 L422.7 1232.6 L423.4 1229.6 L424.1 1226.7 L424.7 1223.8 L425.4 1220.9 L426.1 1217.9 L426.8 1215.0 L427.5 1212.1 L428.2 1209.1 L428.9 1206.2 L429.6 1203.3 L430.3 1200.4 L431.0 1197.4 L431.7 1194.5 L432.4 1191.6 L433.1 1188.7 L433.8 1185.7 L434.5 1182.8 L435.2 1179.9 L435.9 1177.0 L436.6 1174.0 L437.3 1171.1 L438.0 1168.2 L438.7 1165.3 L439.4 1162.3 L440.1 1159.4 L440.8 1156.5 L441.5 1153.6 L442.2 1150.6 L442.9 1147.7 L443.6 1144.8 L444.3 1141.9 L445.0 1138.9 L445.7 1136.0 L446.4 1133.1 L447.1 1130.2 L447.8 1127.2 L448.5 1124.3 L449.2 1121.4 L450.0 1118.5 L450.7 1115.6 L451.4 1112.6 L452.1 1109.7 L452.8 1106.8 L453.5 1103.9 L454.2 1100.9 L454.9 1098.0 L455.7 1095.1 L456.4 1092.2 L457.1 1089.3 L457.8 1086.3 L458.5 1083.4 L459.2 1080.5 L459.9 1077.6 L460.7 1074.7 L461.4 1071.7 L462.1 1068.8 L462.8 1065.9 L463.5 1063.0 L464.2 1060.0 L465.0 1057.1 L465.7 1054.2 L466.4 1051.3 L467.1 1048.4 L467.8 1045.4 L468.6 1042.5 L469.3 1039.6 L470.0 1036.7 L470.7 1033.8 L471.4 1030.8 L472.2 1027.9 L472.9 1025.0 L473.6 1022.1 L474.3 1019.2 L475.0 1016.2 L475.8 1013.3 L476.5 1010.4 L477.2 1007.5 L477.9 1004.6 L478.6 1001.6 L479.4 998.7 L480.1 995.8 L480.8 992.9 L481.5 990.0 L482.3 987.0 L483.0 984.1 L483.7 981.2 L484.4 978.3 L485.2 975.4 L485.9 972.4 L486.6 969.5 L487.3 966.6 L488.0 963.7 L488.8 960.8 L489.5 957.8 L490.2 954.9 L490.9 952.0 L491.7 949.1 L492.4 946.2 L493.1 943.2 L493.8 940.3 L494.6 937.4 L495.3 934.5 L496.0 931.6 L496.7 928.6 L497.5 925.7 L498.2 922.8 L498.9 919.9 L499.6 917.0 L500.4 914.0 L501.1 911.1 L501.8 908.2 L502.5 905.3 L503.3 902.4 L504.0 899.5 L504.7 896.5 L505.4 893.6 L506.1 890.7 L506.9 887.8 L507.6 884.9 L508.3 881.9 L509.0 879.0 L509.8 876.1 L510.5 873.2 L511.2 870.3 L511.9 867.3 L512.7 864.4 L513.4 861.5 L514.1 858.6 L514.8 855.7 L515.6 852.7 L516.3 849.8 L517.0 846.9 L517.8 844.0 L518.5 841.1 L519.2 838.1 L519.9 835.2 L520.7 832.3 L521.4 829.4 L522.1 826.5 L522.9 823.6 L523.6 820.6 L524.3 817.7 L525.1 814.8 L525.8 811.9 L526.5 809.0 L527.2 806.0 L528.0 803.1 L528.7 800.2 L529.5 797.3 L530.2 794.4 L530.9 791.5 L531.7 788.5 L532.4 785.6 L533.1 782.7 L533.9 779.8 L534.6 776.9 L535.3 774.0 L536.1 771.1 L536.8 768.1 L537.6 765.2 L538.3 762.3 L539.1 759.4 L539.8 756.5 L540.5 753.6 L541.3 750.7 L542.0 747.7 L542.8 744.8 L543.5 741.9 L544.3 739.0 L545.0 736.1 L545.8 733.2 L546.5 730.3 L547.3 727.3 L548.0 724.4 L548.8 721.5 L549.5 718.6 L550.3 715.7 L551.1 712.8 L551.8 709.9 L552.6 707.0 L553.3 704.1 L554.1 701.1 L554.9 698.2 L555.6 695.3 L556.4 692.4 L557.2 689.5 L557.9 686.6 L558.7 683.7 L559.5 680.8 L560.2 677.9 L561.0 675.0 L561.8 672.1 L562.5 669.2 L563.3 666.3 L564.1 663.3 L564.9 660.4 L565.7 657.5 L566.4 654.6 L567.2 651.7 L568.0 648.8 L568.8 645.9 L569.6 643.0 L570.4 640.1 L571.1 637.2 L571.9 634.3 L572.7 631.4 L573.5 628.5 L574.3 625.6 L575.1 622.7 L575.9 619.8 L576.7 616.9 L577.5 614.0 L578.3 611.1 L579.1 608.2 L579.9 605.3 L580.7 602.4 L581.5 599.5 L582.3 596.6 L583.1 593.7 L583.9 590.8 L584.8 587.9 L585.6 585.0 L586.4 582.1 L587.2 579.2 L588.0 576.3 L588.9 573.5 L589.7 570.6 L590.5 567.7 L591.3 564.8 L592.2 561.9 L593.0 559.0 L593.8 556.1 L594.7 553.2 L595.5 550.3 L596.3 547.4 L597.2 544.5 L598.0 541.7 L598.9 538.8 L599.7 535.9 L600.5 533.0 L601.4 530.1 L602.3 527.2 L603.1 524.3 L604.0 521.5 L604.8 518.6 L605.7 515.7 L606.5 512.8 L607.4 509.9 L608.3 507.1 L609.2 504.2 L610.0 501.3 L610.9 498.4 L611.8 495.5 L612.7 492.7 L613.6 489.8 L614.4 486.9 L615.3 484.0 L616.2 481.2 L617.1 478.3 L618.0 475.4 L618.9 472.6 L619.9 469.7 L620.8 466.8 L621.7 464.0 L622.6 461.1 L623.5 458.2 L624.5 455.4 L625.4 452.5 L626.3 449.7 L627.3 446.8 L628.2 444.0 L629.2 441.1 L630.1 438.3 L631.1 435.4 L632.0 432.6 L633.0 429.7 L634.0 426.9 L635.0 424.0 L635.9 421.2 L636.9 418.3 L637.9 415.5 L638.9 412.7 L639.9 409.8 L640.9 407.0 L641.9 404.2 L642.9 401.3 L644.0 398.5 L645.0 395.7 L646.0 392.8 L647.1 390.0 L648.1 387.2 L649.1 384.4 L650.2 381.6 L651.3 378.8 L652.3 375.9 L653.4 373.1 L654.5 370.3 L655.5 367.5 L656.6 364.7 L657.7 361.9 L658.8 359.1 L659.9 356.3 L661.0 353.5 L662.2 350.7 L663.3 347.9 L664.4 345.2 L665.6 342.4 L666.7 339.6 L667.9 336.8 L669.0 334.0 L670.2 331.2 L671.3 328.5 L672.5 325.7 L673.7 322.9 L674.9 320.2 L676.1 317.4 L677.3 314.6 L678.5 311.9 L679.7 309.1 L681.0 306.4 L682.2 303.6 L683.4 300.9 L684.7 298.2 L685.9 295.4 L687.1 292.7 L688.4 290.0 L689.6 287.3 L690.9 284.5 L692.2 281.8 L693.4 279.1 L694.7 276.4 L696.0 273.8 L697.3 271.1 L698.7 268.4 L700.0 265.8 L701.4 263.1 L702.8 260.5 L704.3 257.9 L705.8 255.3 L707.4 252.7 L708.9 250.2 L710.6 247.6 L712.3 245.1 L714.0 242.6 L715.9 240.1 L717.8 237.7 L719.7 235.2 L721.7 232.9 L723.8 230.5 L725.9 228.3 L728.1 226.2 L730.4 224.1 L732.7 222.2 L735.1 220.4 L737.6 218.8 L740.1 217.3 L742.7 216.0 L745.3 214.9 L748.0 214.0 L750.7 213.3 L753.5 212.8 L756.3 212.6 L759.2 212.6 L762.1 213.0 L765.0 213.6 L768.0 214.6 L770.9 215.9 L773.9 217.5 L776.9 219.3 L779.9 221.1 L782.9 222.9 L785.9 224.6 L788.9 226.4 L791.9 228.1 L794.9 229.8 L797.9 231.5 L800.9 233.2 L803.9 234.8 L806.9 236.5 L809.9 238.1 L812.9 239.7 L815.9 241.3 L818.9 242.9 L821.9 244.5 L824.9 246.0 L827.9 247.6 L830.9 249.1 L833.9 250.6 L836.9 252.1 L839.9 253.6 L842.9 255.1 L845.9 256.5 L848.9 258.0 L851.9 259.4 L854.9 260.8 L857.9 262.2 L860.9 263.6 L863.9 265.0 L866.9 266.4 L869.9 267.7 L872.9 269.0 L875.9 270.4 L878.9 271.7 L881.9 273.0 L884.9 274.3 L887.9 275.5 L890.9 276.8 L893.9 278.0 L896.9 279.3 L899.9 280.5 L902.9 281.7 L905.9 282.9 L908.9 284.1 L911.9 285.3 L914.9 286.4 L917.9 287.6 L920.9 288.7 L923.9 289.8 L926.9 291.0 L929.9 292.1 L932.9 293.2 L935.9 294.2 L938.9 295.3 L941.9 296.4 L944.9 297.4 L947.9 298.5 L950.9 299.5 L953.9 300.5 L956.9 301.5 L959.9 302.5 L962.9 303.5 L965.9 304.5 L968.9 305.4 L971.9 306.4 L974.9 307.3 L977.9 308.3 L980.9 309.2 L983.9 310.1 L986.9 311.0 L989.9 311.9 L992.9 312.8 L995.9 313.7 L998.9 314.6 L1001.9 315.4 L1004.9 316.3 L1007.9 317.1 L1010.9 317.9 L1013.9 318.8 L1016.9 319.6 L1019.9 320.4 L1022.9 321.2 L1025.9 322.0 L1028.9 322.8 L1031.9 323.5 L1034.9 324.3 L1037.9 325.0 L1040.9 325.8 L1043.9 326.5 L1046.9 327.3 L1049.9 328.0 L1052.9 328.7 L1055.9 329.4 L1058.9 330.1 L1061.9 330.8 L1064.9 331.5 L1067.9 332.2 L1070.9 332.9 L1073.9 333.5 L1076.9 334.2 L1079.9 334.8 L1082.9 335.5 L1085.9 336.1 L1088.9 336.8 L1091.9 337.4 L1094.9 338.0 L1097.9 338.6 L1100.9 339.2 L1103.9 339.8 L1106.9 340.4 L1109.9 341.0 L1112.9 341.6 L1115.9 342.2 L1118.9 342.8 L1121.9 343.3 L1124.9 343.9 L1127.9 344.4 L1130.9 345.0 L1133.9 345.5 L1136.9 346.1 L1139.9 346.6 L1142.9 347.2 L1145.9 347.7 L1148.9 348.2 L1151.9 348.7 L1154.9 349.2 L1157.9 349.7 L1160.9 350.2 L1163.9 350.7 L1166.9 351.2 L1169.9 351.7 L1172.9 352.2 L1175.9 352.7 L1178.9 353.2 L1181.9 353.7 L1184.9 354.1 L1187.9 354.6 L1190.9 355.1 L1193.9 355.5 L1196.9 356.0 L1199.9 356.5 L1202.9 356.9 L1205.9 357.4 L1208.9 357.8 L1211.9 358.3 L1214.9 358.7 L1217.9 359.1 L1220.9 359.6 L1223.9 360.0 L1226.9 360.4 L1229.9 360.9 L1232.9 361.3 L1235.9 361.7 L1238.9 362.1 L1241.9 362.5 L1244.9 363.0 L1247.9 363.4 L1250.9 363.8 L1253.9 364.2 L1256.9 364.6 L1259.9 365.0 L1262.9 365.4 L1265.9 365.8 L1268.9 366.2 L1271.9 366.5 L1274.9 366.9 L1277.9 367.3 L1280.9 367.7 L1283.9 368.1 L1286.9 368.5 L1289.9 368.8 L1292.9 369.2 L1295.9 369.6 L1298.9 369.9 L1301.9 370.3 L1304.9 370.7 L1307.9 371.0 L1310.9 371.4 L1313.9 371.7 L1316.9 372.1 L1319.9 372.4 L1322.9 372.8 L1325.9 373.1 L1328.9 373.5 L1331.9 373.8 L1334.9 374.1 L1337.9 374.5 L1340.9 374.8 L1343.9 375.2 L1346.9 375.5 L1349.9 375.8 L1352.9 376.1 L1355.9 376.5 L1358.9 376.8 L1361.9 377.1 L1364.9 377.4 L1367.9 377.7 L1370.9 378.1 L1373.9 378.4 L1376.9 378.7 L1379.9 379.0 L1382.9 379.3 L1385.9 379.6 L1388.9 379.9 L1391.9 380.2 L1394.9 380.5 L1397.9 380.8 L1400.9 381.1 L1403.9 381.4 L1406.9 381.7 L1409.9 382.0 L1412.9 382.3 L1415.9 382.6 L1418.9 382.8 L1421.9 383.1 L1424.9 383.4 L1427.9 383.7 L1430.9 384.0 L1433.9 384.3 L1436.9 384.5 L1439.9 384.8 L1442.9 385.1 L1445.9 385.4 L1448.9 385.6 L1451.9 385.9 L1454.9 386.2 L1457.9 386.4 L1460.9 386.7 L1463.9 387.0 L1466.9 387.2 L1469.9 387.5 L1472.9 387.8 L1475.9 388.0 L1478.9 388.3 L1481.9 388.5 L1484.9 388.8 L1487.9 389.1 L1490.9 389.3 L1493.9 389.6 L1496.9 389.8 L1499.9 390.1 L1502.9 390.3 L1505.9 390.6 L1508.9 390.8 L1511.9 391.1 L1514.9 391.3 L1517.9 391.6 L1520.9 391.8 L1523.9 392.1 L1526.9 392.3 L1529.9 392.5 L1532.9 392.8 L1535.9 393.0 L1538.9 393.3 L1541.9 393.5 L1544.9 393.8 L1547.9 394.0 L1550.9 394.2 L1553.9 394.5 L1556.9 394.7 L1559.9 394.9 L1562.9 395.2 L1565.9 395.4 L1568.9 395.6 L1571.9 395.9 L1574.9 396.1 L1577.9 396.3 L1580.9 396.6 L1583.9 396.8 L1586.9 397.0 L1589.9 397.3 L1592.9 397.5 L1595.9 397.7 L1598.9 398.0 L1601.9 398.2 L1604.9 398.4 L1607.9 398.7 L1610.9 398.9 L1613.9 399.1 L1616.9 399.3 L1619.9 399.6 L1622.9 399.8 L1625.9 400.0 L1628.9 400.2 L1631.9 400.4 L1634.9 400.7 L1637.9 400.9 L1640.9 401.1 L1643.9 401.3 L1646.9 401.5 L1649.9 401.8 L1652.9 402.0 L1655.9 402.2 L1658.9 402.4 L1661.9 402.6 L1664.9 402.8 L1667.9 403.1 L1670.9 403.3 L1673.9 403.5 L1676.9 403.7 L1679.9 403.9 L1682.9 404.1 L1685.9 404.3 L1688.9 404.5 L1691.9 404.7 L1694.9 404.9 L1697.9 405.1 L1700.9 405.3 L1703.9 405.5 L1706.9 405.7 L1709.9 405.9 L1712.9 406.1 L1715.9 406.3 L1718.9 406.5 L1721.9 406.7 L1724.9 406.9 L1727.9 407.1 L1730.9 407.3 L1733.9 407.5 L1736.9 407.7 L1739.9 407.9 L1742.9 408.0 L1745.9 408.2 L1748.9 408.4 L1751.9 408.6 L1754.9 408.8 L1757.9 408.9 L1760.9 409.1 L1763.9 409.3 L1766.9 409.5 L1769.9 409.7 L1772.9 409.8 L1775.9 410.0 L1778.9 410.2 L1781.9 410.3 L1784.9 410.5 L1787.9 410.7 L1790.9 410.8 L1793.9 411.0 L1796.9 411.2 L1799.9 411.3 L1802.9 411.5 L1805.9 411.6 L1808.9 411.8 L1811.9 411.9 L1814.9 412.1 L1817.9 412.2 L1820.9 412.4 L1823.9 412.5 L1826.9 412.7 L1829.9 412.8 L1832.9 413.0 L1835.9 413.1 L1838.9 413.2 L1841.9 413.4 L1844.9 413.5 L1847.9 413.7 L1850.9 413.8 L1853.9 413.9 L1856.9 414.0 L1859.9 414.2 L1862.9 414.3 L1865.9 414.4 L1868.9 414.5 L1871.9 414.7 L1874.9 414.8 L1877.9 414.9 L1880.9 415.0 L1883.9 415.1 L1886.9 415.2 L1889.9 415.3 L1892.9 415.4 L1895.9 415.6 L1898.9 415.7 L1901.9 415.8 L1904.9 415.9 L1907.9 416.0 L1910.9 416.0 L1913.9 416.1 L1916.9 416.2 L1919.9 416.3 L1922.9 416.4 L1925.9 416.5 L1928.9 416.6 L1931.9 416.7 L1934.9 416.7 L1937.9 416.8 L1940.9 416.9 L1943.9 417.0 L1946.9 417.0 L1949.9 417.1 L1952.9 417.2 L1955.9 417.2 L1958.9 417.3 L1961.9 417.3 L1964.9 417.4 L1967.9 417.4 L1970.9 417.5 L1973.9 417.5 L1976.9 417.6 L1979.9 417.6 L1982.9 417.7 L1985.9 417.7 L1988.9 417.8 L1991.9 417.8 L1994.9 417.8 L1997.9 417.9 L2000.9 417.9 L2003.9 417.9 L2006.9 417.9 L2009.9 418.0 L2012.9 418.0 L2015.9 418.0 L2018.9 418.0 L2021.9 418.0 L2024.9 418.0 L2027.9 418.0 L2030.9 418.0 L2033.9 418.0 L2036.9 418.0 L2039.9 418.0 L2042.9 418.0 L2045.9 418.0 L2048.9 418.0 L2051.9 418.0 L2054.9 418.0 L2057.9 417.9 L2060.9 417.9 L2063.9 417.9 L2066.9 417.9 L2069.9 417.8 L2072.0 417.8 L2080.0 415.6 L2094.7 415.3"/>
</g>
<path d="M340.0 49.5 V1571.5 H2304.2 V1599.5 M310 1571.5 H340.0 M310 1317.8 H340.0 M310 1064.2 H340.0 M310 810.5 H340.0 M310 556.8 H340.0 M310 303.2 H340.0 M310 49.5 H340.0 M325 1444.7 H340.0 M325 1191.0 H340.0 M325 937.3 H340.0 M325 683.7 H340.0 M325 430.0 H340.0 M325 176.3 H340.0 M340.0 1571.5 V1599.5 M667.4 1571.5 V1599.5 M994.7 1571.5 V1599.5 M1322.1 1571.5 V1599.5 M1649.5 1571.5 V1599.5 M1976.8 1571.5 V1599.5 M2304.2 1571.5 V1599.5 M503.7 1571.5 V1584.5 M831.0 1571.5 V1584.5 M1158.4 1571.5 V1584.5 M1485.8 1571.5 V1584.5 M1813.1 1571.5 V1584.5 M2140.5 1571.5 V1584.5" fill="none" stroke="#000" stroke-width="4.4" stroke-linejoin="miter"/>
<rect x="1295.8" y="816.7" width="705.2" height="311" fill="#fff" stroke="#2a2a2a" stroke-width="2.6"/>
<g stroke-width="3.2">
<path d="M1305 872.4 H1489.5" stroke="#000"/>
<path d="M1305 972.4 H1489.5" stroke="#ff0000"/>
<path d="M1305 1072.2 H1489.5" stroke="#0000ff"/>
</g>
<text id="y0" x="288.00" y="1590.50" font-size="68.52" text-anchor="end" textLength="91.34" lengthAdjust="spacing">0.0</text>
<text id="y1" x="288.00" y="1336.83" font-size="68.52" text-anchor="end" textLength="91.34" lengthAdjust="spacing">0.1</text>
<text id="y2" x="288.00" y="1083.17" font-size="68.52" text-anchor="end" textLength="91.34" lengthAdjust="spacing">0.2</text>
<text id="y3" x="288.00" y="829.50" font-size="68.52" text-anchor="end" textLength="91.34" lengthAdjust="spacing">0.3</text>
<text id="y4" x="288.00" y="575.83" font-size="68.52" text-anchor="end" textLength="91.34" lengthAdjust="spacing">0.4</text>
<text id="y5" x="288.00" y="322.17" font-size="68.52" text-anchor="end" textLength="91.34" lengthAdjust="spacing">0.5</text>
<text id="y6" x="288.00" y="70.50" font-size="68.52" text-anchor="end" textLength="91.34" lengthAdjust="spacing">0.6</text>
<text id="x0" x="338.80" y="1670.90" font-size="67.96" text-anchor="middle" textLength="168.67" lengthAdjust="spacing">0.000</text>
<text id="x1" x="666.17" y="1670.90" font-size="67.96" text-anchor="middle" textLength="168.67" lengthAdjust="spacing">0.005</text>
<text id="x2" x="993.53" y="1670.90" font-size="67.96" text-anchor="middle" textLength="168.67" lengthAdjust="spacing">0.010</text>
<text id="x3" x="1320.90" y="1670.90" font-size="67.96" text-anchor="middle" textLength="168.67" lengthAdjust="spacing">0.015</text>
<text id="x4" x="1648.27" y="1670.90" font-size="67.96" text-anchor="middle" textLength="168.67" lengthAdjust="spacing">0.020</text>
<text id="x5" x="1975.63" y="1670.90" font-size="67.96" text-anchor="middle" textLength="168.67" lengthAdjust="spacing">0.025</text>
<text id="x6" x="2303.00" y="1670.90" font-size="67.96" text-anchor="middle" textLength="168.67" lengthAdjust="spacing">0.030</text>
<text id="ytitle" transform="translate(127.30 751.25) rotate(-90)" x="0" y="0" font-size="82.39" text-anchor="middle" textLength="1186.15" lengthAdjust="spacing">Mass in the working chamber (kg)</text>
<text id="xt_main" x="1094.30" y="1804.50" font-size="79" textLength="396.08" lengthAdjust="spacing">Volume (m</text>
<text id="xt_sup" x="1493.20" y="1771.60" font-size="55.19">3</text>
<text id="xt_par" x="1525.15" y="1804.50" font-size="79">)</text>
<text id="p1a" x="793.70" y="446.00" font-size="67">P</text>
<text id="p1b" x="838.00" y="464.00" font-size="42.5" textLength="50.49" lengthAdjust="spacing">int</text>
<text id="p1c" x="889.50" y="446.00" font-size="67" textLength="300.58" lengthAdjust="spacing">=1000kPa</text>
<text id="p2a" x="793.70" y="541.00" font-size="67">P</text>
<text id="p2b" x="839.00" y="558.00" font-size="42.5" textLength="46.89" lengthAdjust="spacing">ex</text>
<text id="p2c" x="889.50" y="541.00" font-size="67" textLength="262.92" lengthAdjust="spacing">=200kPa</text>
<text id="p3a" x="794.50" y="635.00" font-size="67">x</text>
<text id="p3b" x="828.60" y="653.00" font-size="42.5" textLength="47.89" lengthAdjust="spacing">int</text>
<text id="p3c" x="876.40" y="635.00" font-size="67" textLength="134.73" lengthAdjust="spacing">=0.5</text>
<text id="p4" x="793.70" y="726.70" font-size="67" textLength="354.05" lengthAdjust="spacing">N=1000rpm</text>
<text id="suction" x="797.10" y="1327.20" font-size="73" font-weight="bold" textLength="466.23" lengthAdjust="spacing">Suction ends</text>
<text id="expansion" x="1506.90" y="1454.10" font-size="72" font-weight="bold" textLength="569.24" lengthAdjust="spacing">Expansion ends</text>
<text id="lg1" x="1514.50" y="897.10" font-size="79" font-weight="bold" textLength="425.70" lengthAdjust="spacing">Total mass</text>
<text id="lg2" x="1511.70" y="998.40" font-size="79" font-weight="bold" textLength="476.67" lengthAdjust="spacing">Liquid mass</text>
<text id="lg3" x="1512.50" y="1096.60" font-size="79" font-weight="bold" textLength="385.55" lengthAdjust="spacing">Gas mass</text>
</svg></body></html>
